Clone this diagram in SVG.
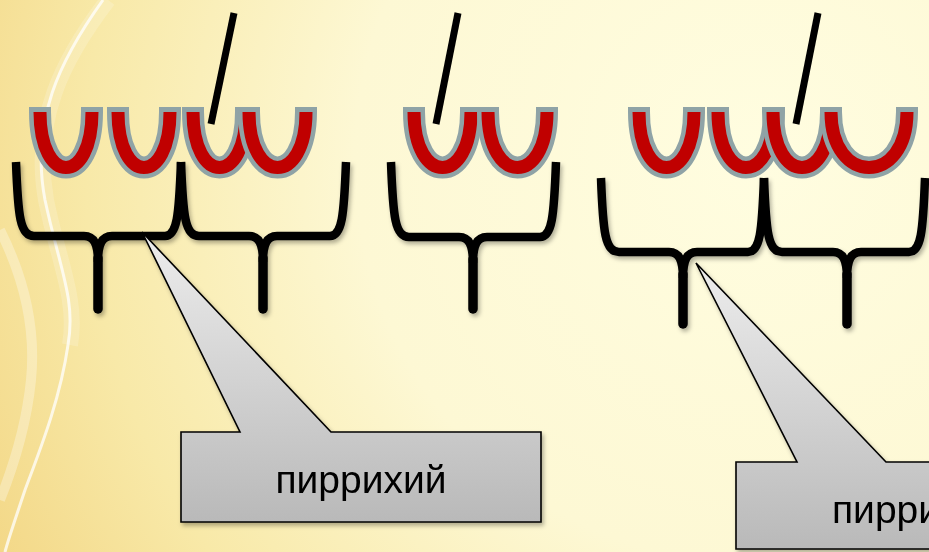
<svg xmlns="http://www.w3.org/2000/svg" width="929" height="552" viewBox="0 0 929 552">
  <defs>
    <radialGradient id="bg" gradientUnits="userSpaceOnUse" cx="760" cy="160" r="900">
      <stop offset="0" stop-color="#FFFDE0"/>
      <stop offset="0.45" stop-color="#FDF8D4"/>
      <stop offset="0.75" stop-color="#F8E9A8"/>
      <stop offset="1" stop-color="#F2D480"/>
    </radialGradient>
    <linearGradient id="callFill" x1="0" y1="0" x2="0" y2="1">
      <stop offset="0" stop-color="#EDEDED"/>
      <stop offset="1" stop-color="#B9B9B9"/>
    </linearGradient>
    <filter id="shadow" x="-10%" y="-10%" width="130%" height="130%">
      <feDropShadow dx="2" dy="3" stdDeviation="2" flood-color="#000000" flood-opacity="0.3"/>
    </filter>
  </defs>
  <style>
    .sw { fill: none; stroke: #FFFFFF; }
    .bg-u { fill: none; stroke: #8FA3A6; stroke-width: 22; stroke-linecap: butt; stroke-linejoin: round; }
    .fg-u { fill: none; stroke: #C00000; stroke-width: 13; stroke-linecap: butt; stroke-linejoin: round; }
    .ictus { fill: none; stroke: #000000; stroke-width: 7; stroke-linecap: butt; }
    .brace { fill: none; stroke: #000000; stroke-width: 8.5; stroke-linecap: butt; stroke-linejoin: round; }
    .spike { fill: none; stroke: #000000; stroke-width: 9.5; stroke-linecap: round; }
    .callout { fill: url(#callFill); stroke: #000000; stroke-width: 1.6; stroke-linejoin: miter; }
    .label { font-family: "Liberation Sans", Arial, sans-serif; font-size: 39px; fill: #000000; }
  </style>

  <g id="background">
    <rect x="0" y="0" width="929" height="552" fill="url(#bg)"/>
    <path class="sw" stroke-width="16" stroke-opacity="0.18" d="M108,0 C62,60 32,120 46,200 C58,260 78,300 70,345"/>
    <path class="sw" stroke-width="3" stroke-opacity="0.75" d="M103,0 C60,60 30,120 45,200 C60,270 76,300 68,345 C60,400 40,450 25,490 C15,520 8,540 5,552"/>
    <path class="sw" stroke-width="10" stroke-opacity="0.3" d="M0,230 C25,280 36,330 31,380 C26,430 12,470 0,500"/>
  </g>

  <g id="feet" filter="url(#shadow)">
    <g id="foot-1">
      <path class="brace" d="M16,162 C18,216 20,236 34,236 L84,236 C94,236 98,244 98,262 M98,262 C98,244 102,236 112,236 L165,236 C177,236 179,216 181,162"/>
      <path class="spike" d="M98,258 L98,309"/>
    </g>
    <g id="foot-2">
      <path class="brace" d="M181,162 C183,216 185,236 199,236 L249,236 C259,236 263,244 263,262 M263,262 C263,244 267,236 277,236 L330,236 C342,236 344,216 346,162"/>
      <path class="spike" d="M263,258 L263,309"/>
    </g>
    <g id="foot-3">
      <path class="brace" d="M391,162 C393,217 395,237 409,237 L459,237 C469,237 473,245 473,263 M473,263 C473,245 477,237 487,237 L540,237 C552,237 554,217 556,162"/>
      <path class="spike" d="M473,259 L473,309"/>
    </g>
    <g id="foot-4">
      <path class="brace" d="M601,178 C603,232 605,252 619,252 L669,252 C679,252 683,260 683,278 M683,278 C683,260 687,252 697,252 L748,252 C760,252 762,232 764,178"/>
      <path class="spike" d="M683,274 L683,324"/>
    </g>
    <g id="foot-5">
      <path class="brace" d="M764,178 C766,232 768,252 782,252 L833,252 C843,252 847,260 847,278 M847,278 C847,260 851,252 861,252 L909,252 C921,252 923,232 925,178"/>
      <path class="spike" d="M847,274 L847,324"/>
    </g>
  </g>

  <g id="breves">
    <g id="breve-1">
      <path class="bg-u" d="M40,107 L40,112 C40,186 92,186 92,112 L92,107"/>
      <path class="fg-u" d="M40,112 C40,186 92,186 92,112"/>
    </g>
    <g id="breve-2">
      <path class="bg-u" d="M118,107 L118,112 C118,186 170,186 170,112 L170,107"/>
      <path class="fg-u" d="M118,112 C118,186 170,186 170,112"/>
    </g>
    <g id="breve-3">
      <path class="bg-u" d="M193,107 L193,112 C193,186 246,186 246,112 L246,107"/>
      <path class="fg-u" d="M193,112 C193,186 246,186 246,112"/>
    </g>
    <g id="breve-4">
      <path class="bg-u" d="M249,107 L249,112 C249,186 306,186 306,112 L306,107"/>
      <path class="fg-u" d="M249,112 C249,186 306,186 306,112"/>
    </g>
    <g id="breve-5">
      <path class="bg-u" d="M414,107 L414,112 C414,186 471,186 471,112 L471,107"/>
      <path class="fg-u" d="M414,112 C414,186 471,186 471,112"/>
    </g>
    <g id="breve-6">
      <path class="bg-u" d="M488,107 L488,112 C488,186 547,186 547,112 L547,107"/>
      <path class="fg-u" d="M488,112 C488,186 547,186 547,112"/>
    </g>
    <g id="breve-7">
      <path class="bg-u" d="M639,107 L639,112 C639,186 694,186 694,112 L694,107"/>
      <path class="fg-u" d="M639,112 C639,186 694,186 694,112"/>
    </g>
    <g id="breve-8">
      <path class="bg-u" d="M718,107 L718,112 C718,186 774,186 774,112 L774,107"/>
      <path class="fg-u" d="M718,112 C718,186 774,186 774,112"/>
    </g>
    <g id="breve-9">
      <path class="bg-u" d="M773,107 L773,112 C773,186 831,186 831,112 L831,107"/>
      <path class="fg-u" d="M773,112 C773,186 831,186 831,112"/>
    </g>
    <g id="breve-10">
      <path class="bg-u" d="M831,107 L831,112 C831,186 907,186 907,112 L907,107"/>
      <path class="fg-u" d="M831,112 C831,186 907,186 907,112"/>
    </g>
  </g>

  <g id="stresses">
    <line id="stress-1" class="ictus" x1="234" y1="13" x2="211" y2="124"/>
    <line id="stress-2" class="ictus" x1="458" y1="13" x2="436" y2="124"/>
    <line id="stress-3" class="ictus" x1="818" y1="13" x2="796" y2="124"/>
  </g>

  <g id="connectors"></g>

  <g id="callout-1" filter="url(#shadow)">
    <path class="callout" d="M181,432 L240,432 L142,232 L331,432 L541,432 L541,522 L181,522 Z"/>
    <text class="label" x="361" y="493" text-anchor="middle">пиррихий</text>
  </g>

  <g id="callout-2" filter="url(#shadow)">
    <path class="callout" d="M736,462 L797,462 L696,263 L886,462 L1096,462 L1096,549 L736,549 Z"/>
    <text class="label" x="832" y="523">пирри</text>
  </g>
</svg>
